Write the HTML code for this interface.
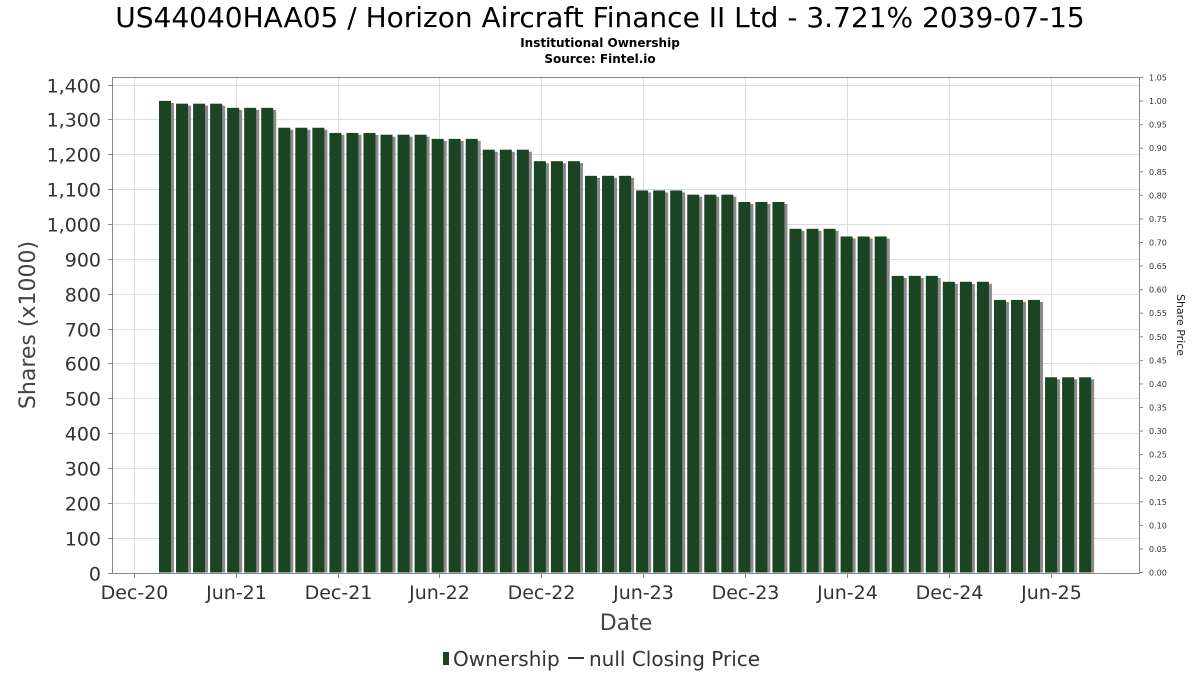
<!DOCTYPE html>
<html><head><meta charset="utf-8">
<style>
body{margin:0;background:#fff;font-family:"DejaVu Sans","Liberation Sans",sans-serif;}
svg text{font-family:"DejaVu Sans","Liberation Sans",sans-serif;}
</style></head>
<body>
<svg id="chart" width="1200" height="675" xmlns="http://www.w3.org/2000/svg">
<text x="600" y="27" text-anchor="middle" font-size="28" fill="#000">US44040HAA05 / Horizon Aircraft Finance II Ltd - 3.721% 2039-07-15</text>
<text x="600" y="47" text-anchor="middle" font-size="12" font-weight="bold" fill="#000">Institutional Ownership</text>
<text x="600" y="63" text-anchor="middle" font-size="12" font-weight="bold" fill="#000">Source: Fintel.io</text>
<g id="grid"></g>
<g id="bars"></g>
<rect x="112.5" y="77.5" width="1027" height="496" fill="none" stroke="#888" stroke-width="1"/>
<g id="axes"></g>
<text transform="translate(35,325) rotate(-90)" text-anchor="middle" font-size="22" fill="#444">Shares (x1000)</text>
<text x="626" y="630" text-anchor="middle" font-size="22" fill="#444">Date</text>
<text transform="translate(1177,325) rotate(90)" text-anchor="middle" font-size="11" fill="#222">Share Price</text>
<g>
<rect x="443" y="652" width="6" height="13" fill="#1a4423"/>
<text x="453" y="666" font-size="20" fill="#333">Ownership</text>
<line x1="568" y1="658" x2="584" y2="658" stroke="#333" stroke-width="2"/>
<text x="589" y="666" font-size="20" fill="#333">null Closing Price</text>
</g>
</svg>
<script>
const months = ["2021-01","2021-02","2021-03","2021-04","2021-05","2021-06","2021-07","2021-08","2021-09","2021-10","2021-11","2021-12","2022-01","2022-02","2022-03","2022-04","2022-05","2022-06","2022-07","2022-08","2022-09","2022-10","2022-11","2022-12","2023-01","2023-02","2023-03","2023-04","2023-05","2023-06","2023-07","2023-08","2023-09","2023-10","2023-11","2023-12","2024-01","2024-02","2024-03","2024-04","2024-05","2024-06","2024-07","2024-08","2024-09","2024-10","2024-11","2024-12","2025-01","2025-02","2025-03","2025-04","2025-05","2025-06","2025-07"];
const shares = [1353,1345,1345,1345,1333,1333,1333,1276,1276,1276,1261,1261,1261,1256,1256,1256,1244,1244,1244,1213,1213,1213,1180,1180,1180,1138,1138,1138,1096,1096,1096,1084,1084,1084,1063,1063,1063,986,986,986,964,964,964,851,851,851,834,834,834,782,782,782,560,560,560];
const yTicks = [0,100,200,300,400,500,600,700,800,900,1000,1100,1200,1300,1400];
const priceTicks = [0,0.05,0.10,0.15,0.20,0.25,0.30,0.35,0.40,0.45,0.50,0.55,0.60,0.65,0.70,0.75,0.80,0.85,0.90,0.95,1.00,1.05];
const xTickLabels = ["Dec-20","Jun-21","Dec-21","Jun-22","Dec-22","Jun-23","Dec-23","Jun-24","Dec-24","Jun-25"];
const xTickDates = ["2020-12-01","2021-06-01","2021-12-01","2022-06-01","2022-12-01","2023-06-01","2023-12-01","2024-06-01","2024-12-01","2025-06-01"];

const NS="http://www.w3.org/2000/svg";
const yS = v => 572.5 - v*(488/1400);
const pS = v => 572.5 - v*(495/1.05);
const d0 = Date.UTC(2020,11,1), d1 = Date.UTC(2025,5,1);
const xDate = s => { const t=Date.parse(s+"T00:00:00Z"); return 134 + (t-d0)/(d1-d0)*917; };
const xBar = i => 159 + i*17.04;
function mk(tag, attrs, parent, text){const e=document.createElementNS(NS,tag);for(const k in attrs)e.setAttribute(k,attrs[k]);if(text!==undefined)e.textContent=text;parent.appendChild(e);return e;}
const grid=document.getElementById('grid'), bars=document.getElementById('bars'), axes=document.getElementById('axes');
yTicks.forEach(v=>{
  const y=Math.round(yS(v))+0.5;
  const l=mk('line',{x1:113,x2:1139,y1:y,y2:y,stroke:'#ddd','stroke-width':1},grid);
  
  
  const t=mk('text',{x:101,y:y+7,'text-anchor':'end','font-size':19,fill:'#333'},axes,v.toLocaleString('en-US'));
  
  
  mk('line',{x1:108,x2:112,y1:y,y2:y,stroke:'#888'},axes);
});
xTickDates.forEach((d,i)=>{
  const x=Math.round(xDate(d))+0.5;
  const l=mk('line',{x1:x,x2:x,y1:78,y2:573,stroke:'#ddd','stroke-width':1},grid);
  
  
  mk('line',{x1:x,x2:x,y1:573,y2:578,stroke:'#888'},axes);
  const t=mk('text',{x:x,y:599,'text-anchor':'middle','font-size':19,fill:'#333'},axes,xTickLabels[i]);
  
  
});
priceTicks.forEach(v=>{
  const y=pS(v);
  mk('line',{x1:1139,x2:1143,y1:y,y2:y,stroke:'#888'},axes);
  const t=mk('text',{x:1149,y:y+3,'font-size':8,fill:'#333'},axes,v.toFixed(2));
  
  
});
shares.forEach((v,i)=>{
  const x=xBar(i), y=yS(v), h=572.5-y;
  const s=mk('rect',{x:x+3,y:y+2,width:12,height:h-2,fill:'#8a8a8a'},bars);
  
  
  const b=mk('rect',{x:x,y:y,width:12,height:h,fill:'#1a4423'},bars);
  
  
});
</script>
</body></html>
